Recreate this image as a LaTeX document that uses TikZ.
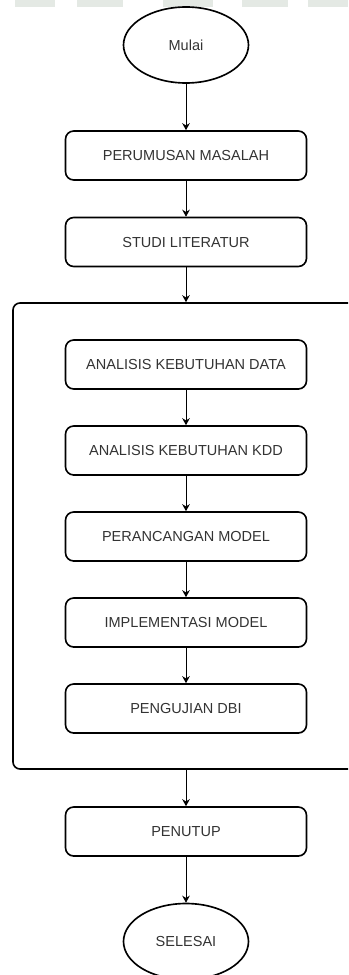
\documentclass[tikz,border=0pt]{standalone}
\usepackage{fontspec}
\setmainfont{Liberation Sans}
\usepackage{xcolor}
\usetikzlibrary{positioning,shapes.geometric,arrows.meta}

\definecolor{teks}{RGB}{51,51,51}
\definecolor{samar}{RGB}{228,233,228}

\begin{document}
\begin{tikzpicture}[-{Stealth[length=6pt,width=6.5pt]}, line width=0.8pt, node distance=2.58cm,
	main node/.style={rectangle, rounded corners=7pt, draw, line width=1.4pt, minimum width=7.23cm, minimum height=1.47cm, text=teks, font=\fontsize{12.4}{15}\selectfont},
	end node/.style={ellipse, draw, line width=1.4pt, minimum width=3.75cm, minimum height=2.28cm, text=teks, font=\fontsize{12.4}{15}\selectfont}]

			\useasboundingbox (0,0) rectangle (10.44,-29.25);
			\clip (0,0) rectangle (10.44,-29.25);

			% faint band at the top
			\foreach \xa/\xb in {0.45/1.65, 2.31/3.69, 4.89/6.39, 7.26/8.64, 9.24/10.44}
				\fill[samar] (\xa,0) rectangle (\xb,-0.21);

			\node[end node] (1) at (5.58,-1.35) {Mulai};
			\node[main node] (2) [below of=1, node distance=3.315cm] {PERUMUSAN MASALAH};
			\node[main node] (3) [below of=2, node distance=2.595cm] {STUDI LITERATUR};

			\node[main node] (4) [below of=3, node distance=3.675cm] {ANALISIS KEBUTUHAN DATA};
			\node[main node] (5) [below of=4] {ANALISIS KEBUTUHAN KDD};
			\node[main node] (6) [below of=5] {PERANCANGAN MODEL};
			\node[main node] (7) [below of=6] {IMPLEMENTASI MODEL};
			\node[main node] (8) [below of=7] {PENGUJIAN DBI};

			% big box round the inner steps
			\node[rectangle, rounded corners=6pt, draw, line width=1.4pt, minimum width=10.86cm, minimum height=13.98cm] (9) at (5.82,-16.08) {};

			\node[main node] (10) [below of=8, node distance=3.69cm] {PENUTUP};
			\node[end node] (11) [below of=10, node distance=3.3cm] {SELESAI};

			% draw upper part of flow
			\draw (1) -- (2);
			\draw (2) -- (3);
			\draw (3.south) -- (3.south |- 9.north);

			% draw inner steps
			\draw (4) -- (5);
			\draw (5) -- (6);
			\draw (6) -- (7);
			\draw (7) -- (8);

			% draw last part of flow
			\draw (10.north |- 9.south) -- (10);
			\draw (10) -- (11);

		\end{tikzpicture}
\end{document}
